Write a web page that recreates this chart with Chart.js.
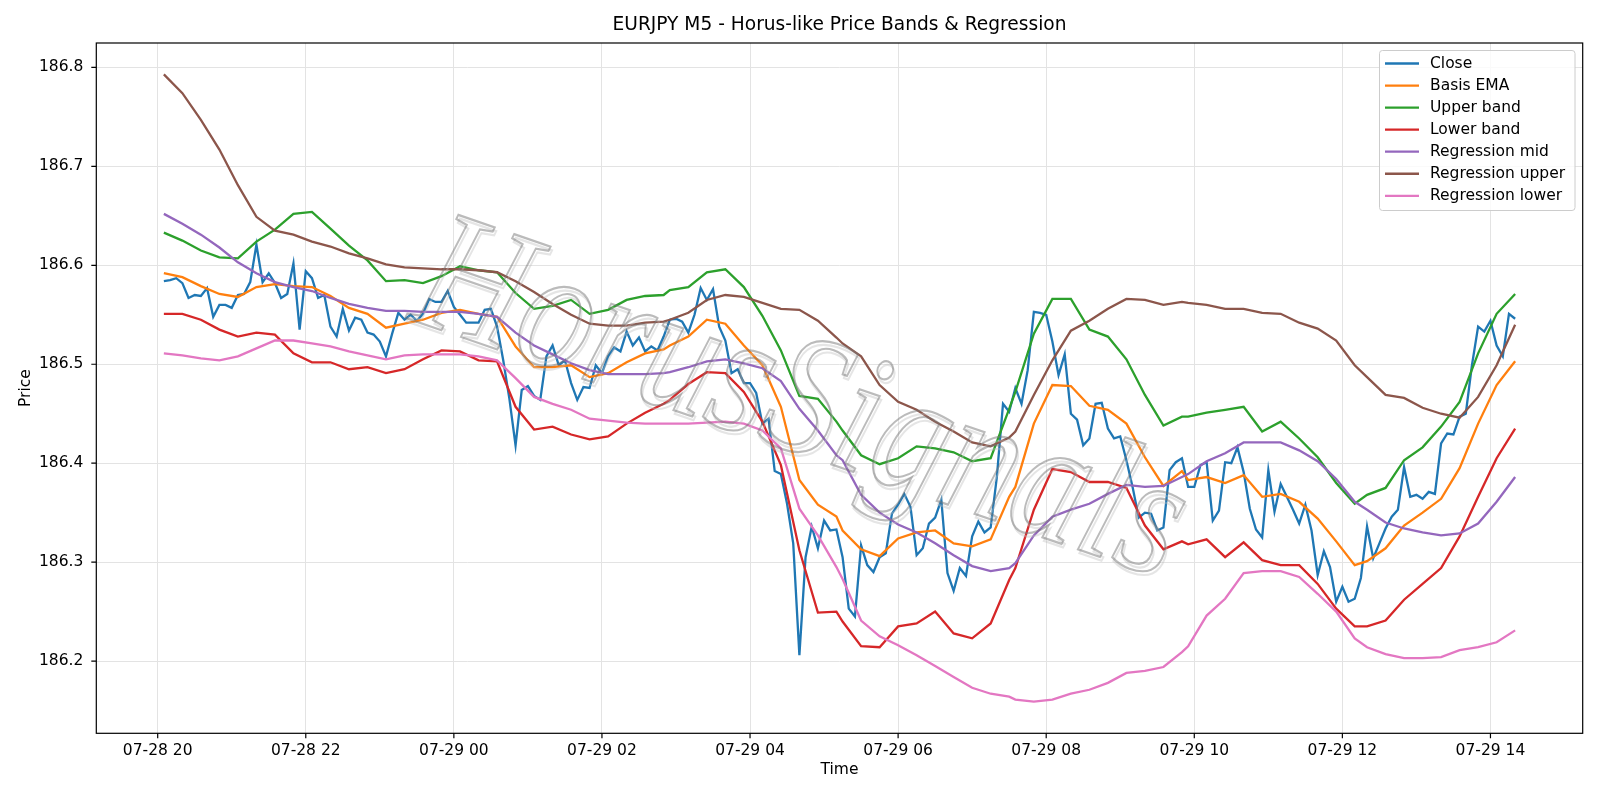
<!DOCTYPE html>
<html>
<head>
<meta charset="utf-8">
<title>EURJPY M5</title>
<script src="https://cdn.jsdelivr.net/npm/chart.js@4.4.1/dist/chart.umd.min.js"></script>
<style>
  html, body { margin: 0; padding: 0; background: #ffffff; }
  #wrap { width: 1600px; height: 800px; }
</style>
</head>
<body>
<div id="wrap"><canvas id="priceChart" width="1600" height="800"></canvas></div>
<script>
// time axis: number of 5-minute bars after 07-28 20:00
const tickBars = [0, 24, 48, 72, 96, 120, 144, 168, 192, 216];
const tickLabels = ['07-28 20', '07-28 22', '07-29 00', '07-29 02', '07-29 04',
                    '07-29 06', '07-29 08', '07-29 10', '07-29 12', '07-29 14'];
const priceTicks = [186.2, 186.3, 186.4, 186.5, 186.6, 186.7, 186.8];

// close, one value per bar (20:05 .. 14:20)
const closeBars = Array.from({ length: 220 }, (_, i) => i + 1);
const closeValues = [
  186.584, 186.585, 186.587, 186.582, 186.567, 186.570, 186.569, 186.577, 186.548, 186.560,
  186.560, 186.557, 186.570, 186.571, 186.583, 186.621, 186.583, 186.592, 186.582, 186.567,
  186.571, 186.602, 186.535, 186.594, 186.587, 186.567,
  186.570, 186.538, 186.528, 186.556, 186.534, 186.547, 186.545, 186.532, 186.530, 186.523,
  186.508, 186.531, 186.552, 186.545, 186.550, 186.544, 186.551, 186.566, 186.563, 186.563,
  186.574, 186.558, 186.550, 186.542, 186.542, 186.542, 186.555, 186.556,
  186.538, 186.504, 186.465, 186.418, 186.474, 186.478, 186.468, 186.464, 186.508, 186.519,
  186.499, 186.504, 186.481, 186.464, 186.477, 186.476, 186.499, 186.491, 186.508, 186.517,
  186.513, 186.533, 186.519, 186.527, 186.513, 186.518, 186.514, 186.528,
  186.545, 186.546, 186.543, 186.532, 186.550, 186.577, 186.565, 186.576, 186.538, 186.524,
  186.491, 186.495, 186.481, 186.481, 186.471, 186.440, 186.445, 186.392, 186.389, 186.359,
  186.319, 186.206, 186.305, 186.336, 186.314, 186.342, 186.332, 186.333,
  186.305, 186.253, 186.245, 186.317, 186.297, 186.290, 186.305, 186.309, 186.349, 186.358,
  186.369, 186.356, 186.307, 186.314, 186.339, 186.345, 186.363, 186.289, 186.271, 186.294,
  186.286, 186.326, 186.341, 186.330, 186.335, 186.386, 186.460, 186.452,
  186.476, 186.460, 186.494, 186.553, 186.552, 186.550, 186.523, 186.489, 186.510, 186.450,
  186.444, 186.418, 186.425, 186.460, 186.461, 186.435, 186.425, 186.427, 186.403, 186.376,
  186.345, 186.350, 186.349, 186.332, 186.335, 186.393, 186.401, 186.405,
  186.376, 186.376, 186.398, 186.401, 186.342, 186.352, 186.401, 186.400, 186.416, 186.391,
  186.354, 186.333, 186.325, 186.393, 186.351, 186.379, 186.366, 186.353, 186.339, 186.358,
  186.332, 186.287, 186.311, 186.295, 186.260, 186.275, 186.260, 186.263,
  186.284, 186.336, 186.304, 186.319, 186.334, 186.346, 186.353, 186.396, 186.366, 186.368,
  186.364, 186.371, 186.369, 186.420, 186.430, 186.429, 186.447, 186.450, 186.499, 186.538,
  186.533, 186.544, 186.519, 186.508, 186.551, 186.546
];

// smooth lines, read at these bars
const bandBars = [
  1, 4, 7, 10, 13, 16, 19, 22, 25,
  28, 31, 34, 37, 40, 43, 46, 49, 52,
  55, 58, 61, 64, 67, 70, 73, 76, 79, 82,
  83, 86, 89, 92, 95, 98, 101, 104, 107, 110,
  111, 114, 117, 120, 123, 126, 129, 132, 135, 138,
  139, 142, 145, 148, 151, 154, 157, 160, 163, 166,
  167, 170, 173, 176, 179, 182, 185, 188, 191, 194,
  196, 199, 202, 205, 208, 211, 214, 217, 220
];
const basisEma = [
  186.592, 186.588, 186.579, 186.571, 186.568, 186.578, 186.581, 186.579, 186.578,
  186.569, 186.557, 186.551, 186.537, 186.541, 186.545, 186.552, 186.555, 186.551,
  186.548, 186.518, 186.497, 186.497, 186.499, 186.487, 186.491, 186.502, 186.511, 186.515,
  186.519, 186.528, 186.545, 186.541, 186.519, 186.499, 186.457, 186.383, 186.358, 186.346,
  186.332, 186.313, 186.306, 186.324, 186.330, 186.332, 186.319, 186.316, 186.323, 186.366,
  186.376, 186.440, 186.479, 186.478, 186.458, 186.454, 186.440, 186.406, 186.377, 186.392,
  186.383, 186.386, 186.380, 186.388, 186.366, 186.369, 186.361, 186.344, 186.321, 186.297,
  186.301, 186.314, 186.337, 186.350, 186.364, 186.395, 186.440, 186.479, 186.503
];
const upperBand = [
  186.633, 186.625, 186.615, 186.608, 186.607, 186.624, 186.636, 186.652, 186.654,
  186.637, 186.620, 186.605, 186.584, 186.585, 186.582, 186.589, 186.599, 186.595,
  186.593, 186.572, 186.556, 186.559, 186.565, 186.551, 186.555, 186.565, 186.569, 186.570,
  186.575, 186.578, 186.593, 186.596, 186.578, 186.549, 186.514, 186.468, 186.465, 186.442,
  186.433, 186.408, 186.399, 186.405, 186.417, 186.415, 186.411, 186.402, 186.405, 186.455,
  186.472, 186.531, 186.566, 186.566, 186.535, 186.528, 186.505, 186.469, 186.438, 186.447,
  186.447, 186.451, 186.454, 186.457, 186.432, 186.442, 186.425, 186.406, 186.380, 186.359,
  186.368, 186.375, 186.403, 186.416, 186.437, 186.462, 186.511, 186.551, 186.571
];
const lowerBand = [
  186.551, 186.551, 186.545, 186.535, 186.528, 186.532, 186.530, 186.511, 186.502,
  186.502, 186.495, 186.497, 186.491, 186.495, 186.505, 186.514, 186.513, 186.504,
  186.503, 186.457, 186.434, 186.437, 186.429, 186.424, 186.427, 186.440, 186.451, 186.460,
  186.464, 186.480, 186.492, 186.491, 186.472, 186.442, 186.398, 186.312, 186.249, 186.250,
  186.240, 186.215, 186.214, 186.235, 186.238, 186.250, 186.228, 186.223, 186.238, 186.282,
  186.294, 186.353, 186.394, 186.391, 186.381, 186.381, 186.375, 186.337, 186.313, 186.321,
  186.318, 186.323, 186.305, 186.320, 186.302, 186.297, 186.297, 186.278, 186.253, 186.235,
  186.235, 186.241, 186.262, 186.278, 186.294, 186.326, 186.366, 186.405, 186.435
];
const regMid = [
  186.652, 186.642, 186.631, 186.618, 186.603, 186.592, 186.583, 186.578, 186.574,
  186.567, 186.561, 186.557, 186.554, 186.554, 186.553, 186.553, 186.553, 186.551,
  186.548, 186.532, 186.519, 186.510, 186.501, 186.494, 186.490, 186.490, 186.490, 186.491,
  186.492, 186.497, 186.503, 186.505, 186.501, 186.496, 186.483, 186.455, 186.433, 186.408,
  186.403, 186.368, 186.350, 186.338, 186.330, 186.319, 186.307, 186.296, 186.291, 186.294,
  186.299, 186.327, 186.346, 186.353, 186.359, 186.369, 186.378, 186.376, 186.377, 186.386,
  186.389, 186.402, 186.410, 186.421, 186.421, 186.421, 186.413, 186.402, 186.384, 186.361,
  186.353, 186.340, 186.334, 186.330, 186.327, 186.329, 186.339, 186.361, 186.386
];
const regUpper = [
  186.793, 186.774, 186.747, 186.717, 186.681, 186.649, 186.635, 186.631, 186.624,
  186.619, 186.612, 186.607, 186.601, 186.598, 186.597, 186.596, 186.596, 186.595,
  186.593, 186.584, 186.573, 186.561, 186.550, 186.541, 186.539, 186.539, 186.542, 186.543,
  186.545, 186.552, 186.565, 186.570, 186.568, 186.562, 186.556, 186.555, 186.544, 186.527,
  186.521, 186.508, 186.479, 186.462, 186.454, 186.442, 186.432, 186.421, 186.417, 186.426,
  186.432, 186.469, 186.504, 186.534, 186.544, 186.556, 186.566, 186.565, 186.560, 186.563,
  186.562, 186.560, 186.556, 186.556, 186.552, 186.551, 186.542, 186.536, 186.524, 186.499,
  186.487, 186.469, 186.466, 186.456, 186.450, 186.446, 186.467, 186.499, 186.540
];
const regLower = [
  186.511, 186.509, 186.506, 186.504, 186.508, 186.516, 186.524, 186.524, 186.521,
  186.518, 186.513, 186.509, 186.505, 186.509, 186.510, 186.510, 186.510, 186.508,
  186.504, 186.486, 186.467, 186.460, 186.454, 186.445, 186.443, 186.441, 186.440, 186.440,
  186.440, 186.440, 186.441, 186.442, 186.440, 186.433, 186.415, 186.354, 186.327, 186.295,
  186.283, 186.241, 186.225, 186.216, 186.206, 186.195, 186.184, 186.173, 186.167, 186.164,
  186.161, 186.159, 186.161, 186.167, 186.171, 186.178, 186.188, 186.190, 186.194, 186.209,
  186.215, 186.246, 186.263, 186.289, 186.291, 186.291, 186.285, 186.268, 186.250, 186.223,
  186.214, 186.207, 186.203, 186.203, 186.204, 186.211, 186.214, 186.219, 186.231
];

const FONT = 'DejaVu Sans';

function pts(bars, values) {
  return bars.map((b, i) => ({ x: b, y: values[i] }));
}

// frame, ticks, titles, legend drawn like matplotlib
const decorPlugin = {
  id: 'decor',
  afterDatasetsDraw(chart) {
    // grey watermark over the lines
    const ctx = chart.ctx;
    ctx.save();
    ctx.translate(800, 405);
    ctx.rotate(19 * Math.PI / 180);
    ctx.font = 'italic 175px "Liberation Serif"';
    const w = ctx.measureText('HorusSignals').width;
    ctx.scale(800 / w, 1);
    ctx.textAlign = 'center';
    ctx.textBaseline = 'middle';
    ctx.lineWidth = 2.2;
    ctx.strokeStyle = 'rgba(190,190,190,0.4)';
    ctx.strokeText('HorusSignals', 3, 3);
    ctx.strokeStyle = 'rgba(120,120,120,0.5)';
    ctx.strokeText('HorusSignals', 0, 0);
    ctx.restore();
  },
  afterDraw(chart) {
    const ctx = chart.ctx;
    const a = chart.chartArea;
    const xs = chart.scales.x, ys = chart.scales.y;
    ctx.save();
    ctx.strokeStyle = '#000';
    ctx.lineWidth = 1.2;
    ctx.strokeRect(a.left, a.top, a.right - a.left, a.bottom - a.top);
    ctx.beginPath();
    tickBars.forEach(b => {
      const x = xs.getPixelForValue(b);
      ctx.moveTo(x, a.bottom); ctx.lineTo(x, a.bottom + 5);
    });
    priceTicks.forEach(v => {
      const y = ys.getPixelForValue(v);
      ctx.moveTo(a.left, y); ctx.lineTo(a.left - 5, y);
    });
    ctx.stroke();

    const cx = (a.left + a.right) / 2;
    ctx.fillStyle = '#000';
    ctx.textAlign = 'center';
    ctx.textBaseline = 'middle';
    ctx.font = '18.6px "' + FONT + '"';
    ctx.fillText('EURJPY M5 - Horus-like Price Bands & Regression', cx, 25.5);
    ctx.font = '15.5px "' + FONT + '"';
    ctx.fillText('Time', cx, 770);
    ctx.save();
    ctx.translate(25.5, (a.top + a.bottom) / 2);
    ctx.rotate(-Math.PI / 2);
    ctx.fillText('Price', 0, 0);
    ctx.restore();

    // legend
    const lx = 1379.5, ly = 50.5, lw = 1575 - 1379.5, lh = 160;
    ctx.beginPath();
    ctx.roundRect(lx, ly, lw, lh, 3);
    ctx.fillStyle = 'rgba(255,255,255,0.8)';
    ctx.fill();
    ctx.strokeStyle = '#cccccc';
    ctx.lineWidth = 1;
    ctx.stroke();
    ctx.textAlign = 'left';
    chart.data.datasets.forEach((ds, i) => {
      const y = 63.5 + i * 22.05;
      ctx.strokeStyle = ds.borderColor;
      ctx.lineWidth = 2.3;
      ctx.beginPath();
      ctx.moveTo(1385, y); ctx.lineTo(1419, y);
      ctx.stroke();
      ctx.fillStyle = '#000';
      ctx.fillText(ds.label, 1430, y);
    });
    ctx.restore();
  }
};

const series = [
  { label: 'Close', color: '#1f77b4', data: pts(closeBars, closeValues) },
  { label: 'Basis EMA', color: '#ff7f0e', data: pts(bandBars, basisEma) },
  { label: 'Upper band', color: '#2ca02c', data: pts(bandBars, upperBand) },
  { label: 'Lower band', color: '#d62728', data: pts(bandBars, lowerBand) },
  { label: 'Regression mid', color: '#9467bd', data: pts(bandBars, regMid) },
  { label: 'Regression upper', color: '#8c564b', data: pts(bandBars, regUpper) },
  { label: 'Regression lower', color: '#e377c2', data: pts(bandBars, regLower) }
];

const ctx = document.getElementById('priceChart').getContext('2d');
new Chart(ctx, {
  type: 'line',
  data: {
    datasets: series.map((s, i) => ({
      label: s.label,
      data: s.data,
      borderColor: s.color,
      backgroundColor: s.color,
      borderWidth: 2.3,
      pointRadius: 0,
      tension: 0,
      fill: false,
      order: series.length - i // later series on top, like matplotlib
    }))
  },
  options: {
    responsive: false,
    animation: false,
    devicePixelRatio: 1,
    layout: { padding: { top: 43, right: 17.3, left: 0, bottom: 0 } },
    plugins: {
      legend: { display: false },
      title: { display: false },
      tooltip: { enabled: false }
    },
    scales: {
      x: {
        type: 'linear',
        min: -9.95,
        max: 230.95,
        afterBuildTicks: (s) => { s.ticks = tickBars.map(v => ({ value: v })); },
        afterFit: (s) => { s.height = 66.7; },
        grid: { color: '#e3e3e3', lineWidth: 1, drawTicks: false },
        border: { display: false },
        ticks: {
          autoSkip: false,
          maxRotation: 0,
          padding: 8,
          color: '#000',
          font: { family: FONT, size: 15.5 },
          callback: (v, i) => tickLabels[i]
        }
      },
      y: {
        type: 'linear',
        min: 186.127,
        max: 186.8247,
        afterBuildTicks: (s) => { s.ticks = priceTicks.map(v => ({ value: v })); },
        afterFit: (s) => { s.width = 96.3; },
        grid: { color: '#e3e3e3', lineWidth: 1, drawTicks: false },
        border: { display: false },
        ticks: {
          padding: 13,
          color: '#000',
          font: { family: FONT, size: 15.5 },
          callback: (v) => v.toFixed(1)
        }
      }
    }
  },
  plugins: [decorPlugin]
});
</script>
</body>
</html>
